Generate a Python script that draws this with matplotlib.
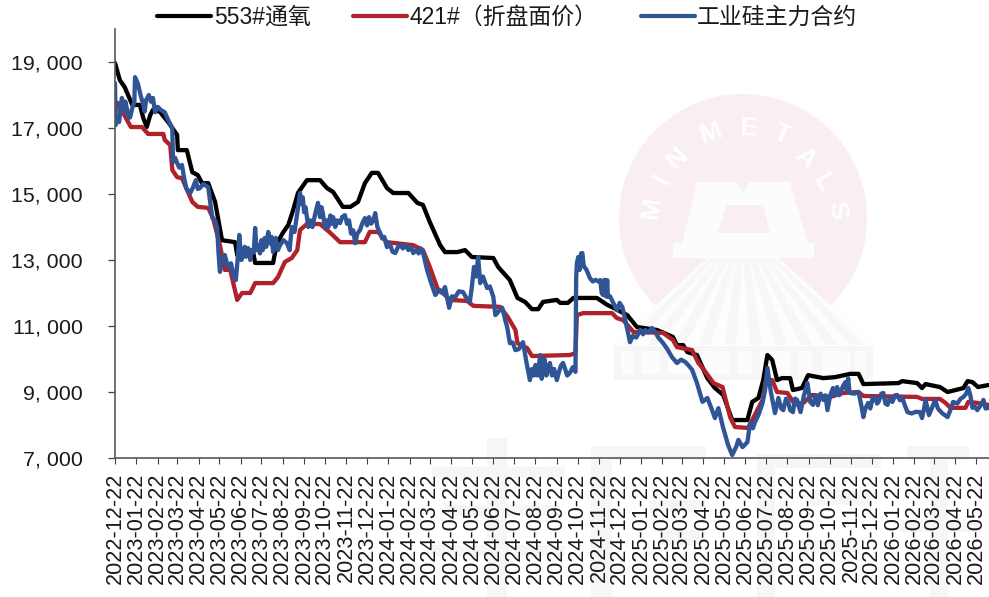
import datetime as dt
import numpy as np
import matplotlib
matplotlib.use("Agg")
import matplotlib.pyplot as plt
import matplotlib.dates as mdates
from matplotlib.patches import Polygon
from matplotlib.ticker import FuncFormatter

plt.rcParams['font.family'] = ['Liberation Sans', 'Noto Sans CJK SC', 'DejaVu Sans']

start = dt.date(2022, 12, 22)
series_names = ['553#通氧', '421#（折盘面价）', '工业硅主力合约']
colors = ['#000000', '#B0222B', '#2F5597']

black_days = [0,7,14,22,25,36,41,46,51,55,65,77,90,91,104,112,120,126,135,145,155,174,177,200,203,229,232,235,243,251,258,265,278,297,307,316,330,341,352,362,372,381,394,403,425,438,446,456,471,478,496,507,517,548,555,572,583,594,604,613,620,640,645,656,664,698,713,722,742,756,785,808,814,823,829,843,858,869,881,894,916,923,932,939,945,952,959,966,978,982,995,1004,1026,1043,1065,1077,1084,1135,1140,1162,1169,1174,1195,1206,1229,1235,1242,1250,1265]
black_vals = [18970,18450,18240,17850,17700,17700,17300,17030,17390,17550,17490,17180,16790,16330,16330,15660,15570,15330,15330,14760,13600,13540,13150,13240,12910,12910,13240,13510,13820,14060,14510,15030,15420,15420,15180,15060,14610,14610,14760,15330,15640,15640,15180,15030,15030,14730,14670,14150,13450,13240,13240,13300,13090,13060,12790,12390,11850,11730,11510,11510,11730,11790,11700,11700,11850,11850,11640,11550,11330,10970,10880,10670,10420,10420,10210,10120,9420,9120,8910,8150,8150,8700,8820,9360,10120,9970,9360,9420,9420,9060,9120,9510,9420,9450,9550,9550,9240,9270,9330,9270,9120,9240,9150,9000,9120,9330,9300,9150,9210]

red_days = [0,4,12,23,39,48,70,72,80,83,90,97,112,120,135,142,152,159,167,171,177,184,196,203,229,236,246,256,264,268,278,297,312,326,362,369,381,394,432,446,456,468,475,485,510,519,558,569,580,583,597,604,659,667,669,678,720,727,736,751,761,794,808,814,836,845,851,867,880,891,898,917,923,938,943,952,959,974,985,997,1010,1036,1055,1077,1084,1162,1169,1195,1203,1210,1232,1236,1249,1265]
red_vals = [17480,17760,17450,17030,17030,16820,16820,16640,16480,15730,15510,15480,14760,14610,14580,14270,13450,12700,12700,12330,11790,12000,12000,12300,12300,12480,12940,13060,13300,13910,14090,14090,13820,13540,13540,13850,13850,13540,13450,13300,12790,12090,12000,11790,11760,11610,11580,11270,10880,10480,10330,10090,10120,10180,11330,11390,11390,11240,11180,10820,10820,10790,10580,10360,10270,9880,9730,9270,9150,8240,7940,7910,8150,8760,9360,9360,9000,8970,8610,8670,8910,8850,8970,9000,8880,8850,8790,8790,8670,8520,8520,8700,8670,8610]

blue_points = [
 (0,18360),(1,17090),(3,17300),(6,17180),(8,17600),(10,17910),(13,17500),(15,17800),(17,17610),(20,17300),(22,17330),(25,17600),(28,17790),(29,18540),(33,18360),(37,18000),(41,17700),(43,17500),(45,17850),(49,18000),(52,17800),(55,17910),(58,17480),(62,17640),(66,17550),(72,17480),(78,17200),(83,17000),(84,15970),(87,16100),(90,15940),(93,15800),(97,15880),(100,15500),(103,15180),(109,15030),(113,15200),(117,15420),(120,15150),(123,15180),(128,15300),(135,15210),(141,14270),(145,14200),(148,13970),(150,13200),(152,12640),(155,13000),(159,13150),(164,12760),
 (168,12900),(172,12500),(175,12390),(178,13100),(180,13760),(183,13000),(185,13090),(188,13400),(190,13100),(193,13360),(196,13000),(198,13300),(201,13240),(203,13970),(205,13300),(207,13450),(210,13200),(212,13600),(214,13300),(217,13670),(219,13400),(222,13850),(225,13500),(227,13700),(229,13240),(231,13500),(233,13670),(236,13300),(239,13450),(244,13600),(249,13510),(253,13300),(256,14000),(260,13850),(264,14420),
 (268,15030),(270,14700),(272,14900),(274,14450),(276,14600),(280,14000),(283,14200),(286,14000),(290,14400),(294,14730),(297,14300),(299,14600),(301,14420),(304,14000),(307,14200),(309,14000),(312,14350),(314,14100),(316,14300),(319,14000),(322,14200),(326,14120),(329,14300),(333,14360),(336,14100),(339,14200),(342,13800),(345,13900),(348,13510),(351,13800),(355,13910),(358,14100),(362,14270),(365,14050),(368,14300),(371,14100),(374,14200),(377,14420),(380,14000),(384,13820),(387,13650),(390,13700),(394,13390),(398,13500),(402,13250),(406,13210),(410,13400),(413,13450),(417,13350),(421,13450),(425,13300),(429,13400),(432,13210),(436,13300),(440,13200),(443,13350),(446,13240),
 (452,12700),(458,12300),(464,11940),(470,12100),(474,12000),(478,12180),(484,11550),(488,11900),(493,11880),(498,12050),(504,12030),(509,11850),(514,11730),(517,12200),(520,12790),(523,12500),(526,13090),(529,12300),(533,12500),(539,12150),(543,12200),(548,11880),(551,11330),(556,11450),(561,11550),(565,11200),(568,10970),(572,10480),(576,10500),(580,10270),(585,10300),(591,10510),(596,9900),
 (601,9360),(604,9700),(607,9500),(609,9820),(612,9500),(616,10120),(618,9400),(620,9580),(622,10000),(625,9500),(628,9800),(630,9880),(633,9500),(636,9700),(640,9360),(643,9600),(646,9800),(649,9880),(652,9700),(655,9500),(659,9580),(663,9750),(667,9610),
 (668,12450),(669,12900),(671,13090),(673,12700),(675,13200),(677,13210),(679,12800),(680,12790),(683,12700),(688,12450),(692,12350),(696,12400),(700,12350),(703,12390),(705,12000),(707,11940),(709,12400),(711,11900),(713,12390),(714,11880),(717,11900),(727,11480),(731,11700),(735,11570),(740,11100),(746,10510),(750,10700),(755,10650),(761,10880),(765,10750),(768,10880),(772,10800),(778,10940),(783,10800),(787,10650),(794,10480),(800,10300),(807,10050),(814,9880),(820,9980),(826,9910),(831,9800),(836,9670),(843,9270),(851,8700),(858,8820),(864,8500),(869,8210),(874,8510),(881,7910),(888,7400),(894,7090),(900,7350),(903,7550),(909,7330),(916,7480),(920,8060),(924,7900),(927,8090),(932,8300),(938,8670),(942,9100),(945,9730),(950,9000),(956,8360),(961,8820),(965,8500),(968,8450),(972,8800),(975,8700),(978,8450),(982,8390),(985,8800),(988,8760),(993,8390),(998,8900),
 (1003,9270),(1007,8700),(1011,8610),(1015,8900),(1018,8600),(1022,8950),(1026,8760),(1029,8900),(1032,8450),(1036,8900),(1040,9120),(1043,8900),(1046,9150),(1049,8900),(1051,9000),(1055,9200),(1058,9300),(1060,9050),(1062,9420),(1064,9000),(1065,8970),(1071,8950),(1077,9000),(1081,8600),
 (1084,8240),(1087,8500),(1091,8670),(1094,8500),(1098,8850),(1101,8820),(1104,8650),(1106,8700),(1110,8950),(1113,8970),(1116,8650),(1119,8610),(1122,8800),(1126,8700),(1130,8900),(1133,8910),(1137,8750),(1140,8850),(1144,8600),(1148,8390),(1154,8350),(1160,8400),(1166,8390),(1169,8210),(1172,8500),(1174,8760),(1177,8500),(1179,8300),(1183,8500),(1188,8760),(1192,8500),(1198,8360),(1202,8300),(1206,8240),(1210,8450),(1214,8700),(1220,8650),(1225,8800),(1229,8850),(1233,8950),(1236,9120),(1239,8900),(1242,8520),(1246,8550),(1249,8450),(1254,8600),(1258,8760),(1261,8500),(1265,8520),
]
blue_days = [p[0] for p in blue_points]
blue_vals = [p[1] for p in blue_points]

tick_labels = [f"{y}-{m:02d}-22" for y, m in
               [(2022, 12)] + [(yy, mm) for yy in (2023, 2024, 2025) for mm in range(1, 13)] + [(2026, mm) for mm in range(1, 6)]]
y_ticks = [7000, 9000, 11000, 13000, 15000, 17000, 19000]

W, H = 989, 597
fig = plt.figure(figsize=(W / 100, H / 100), dpi=100, facecolor='white')


def P(x, y):
    return (x / W, 1 - y / H)


def poly(points, color, z=0):
    fig.add_artist(Polygon([P(*p) for p in points], closed=True, transform=fig.transFigure,
                           facecolor=color, edgecolor='none', zorder=z))


def rect(x0, y0, x1, y1, color, z=0):
    poly([(x0, y0), (x1, y0), (x1, y1), (x0, y1)], color, z)


# ---------- faint watermark ----------
for box in [(487, 438, 507, 597), (432, 467, 565, 478), (445, 505, 560, 516), (432, 545, 565, 556),
            (591, 446, 706, 460), (591, 446, 612, 597), (650, 500, 706, 512), (660, 530, 700, 545),
            (757, 454, 881, 468), (757, 454, 775, 597), (810, 490, 870, 505), (800, 540, 860, 552),
            (907, 446, 969, 460), (930, 446, 948, 597), (900, 520, 980, 532)]:
    rect(*box, '#F6F6F6', 0)

ang = np.linspace(0, 2 * np.pi, 240)
poly([(743 + 124 * np.cos(a), 218 + 124 * np.sin(a)) for a in ang], '#F9EFF0', 0)
poly([(743, 226), (612, 345), (875, 345)], '#FDFDFD', 0.1)
for xb in np.linspace(628, 858, 10):
    poly([(741, 228), (745, 228), (xb + 6, 345), (xb - 6, 345)], '#F7F7F7', 0.2)
rect(614, 346, 873, 380, '#F6F6F6', 0.2)
for x0, x1 in [(621, 633), (642, 660), (668, 690), (699, 730), (737, 752), (760, 790), (798, 812), (822, 850), (855, 866)]:
    rect(x0, 351, x1, 374, '#FCFCFC', 0.3)
M = [(697, 182), (737, 182), (743, 192), (750, 182), (790, 182), (808, 243), (814, 243), (814, 258),
     (673, 258), (673, 243), (682, 243)]
poly(M, '#FCFCFC', 0.3)
poly([(727, 205), (763, 205), (770, 233), (717, 233)], '#F9EFF0', 0.4)
poly([(743, 197), (752, 205), (734, 205)], '#FCFCFC', 0.5)
for ch, (lx, ly), rot in zip("MINMETALS",
                             [(652, 208), (662, 180), (677, 158), (710, 133), (748, 128), (782, 135), (805, 158), (822, 182), (837, 210)],
                             [82, 62, 45, 18, -3, -22, -42, -58, -78]):
    fig.text(*P(lx, ly), ch, color='white', fontsize=19, fontweight='bold', ha='center', va='center',
             rotation=rot, zorder=0.6, family='Liberation Sans')

# ---------- axes ----------
ax = fig.add_axes([115 / W, 1 - 458 / H, (W - 115) / W, (458 - 29) / H], zorder=2)
ax.patch.set_alpha(0)

for days, vals, name, col in zip([black_days, red_days, blue_days], [black_vals, red_vals, blue_vals], series_names, colors):
    xs = [start + dt.timedelta(days=d) for d in days]
    ax.plot(xs, vals, color=col, lw=3.1, label=name, solid_joinstyle='round', solid_capstyle='round')

ax.set_ylim(7000, 20000)
ax.set_xlim(start, start + dt.timedelta(days=1266))
ax.set_yticks(y_ticks)
ax.yaxis.set_major_formatter(FuncFormatter(lambda v, _: f"{int(v) // 1000}, {int(v) % 1000:03d}"))
ax.set_xticks([mdates.date2num(dt.date.fromisoformat(t)) for t in tick_labels])
ax.set_xticklabels(tick_labels, rotation=90, ha='center', va='top')

for s in ('top', 'right'):
    ax.spines[s].set_visible(False)
for s in ('left', 'bottom'):
    ax.spines[s].set_color('#595959')
    ax.spines[s].set_linewidth(1.2)
ax.tick_params(axis='y', length=5, width=0.9, color='#404040', labelsize=15.4, pad=18, labelcolor='#1a1a1a')
ax.tick_params(axis='x', length=4.5, width=0.8, color='#404040', labelsize=15.6, pad=6, labelcolor='#1a1a1a')

leg = ax.legend(loc='upper left', bbox_to_anchor=P(157, 6), bbox_transform=fig.transFigure, ncol=3,
                frameon=False, fontsize=16.5, borderaxespad=0, borderpad=0, handlelength=2.35,
                handletextpad=0.12, columnspacing=1.87, labelcolor='#1a1a1a')
for h in leg.get_lines():
    h.set_linewidth(3.0)

fig.savefig('out.png', dpi=100)
